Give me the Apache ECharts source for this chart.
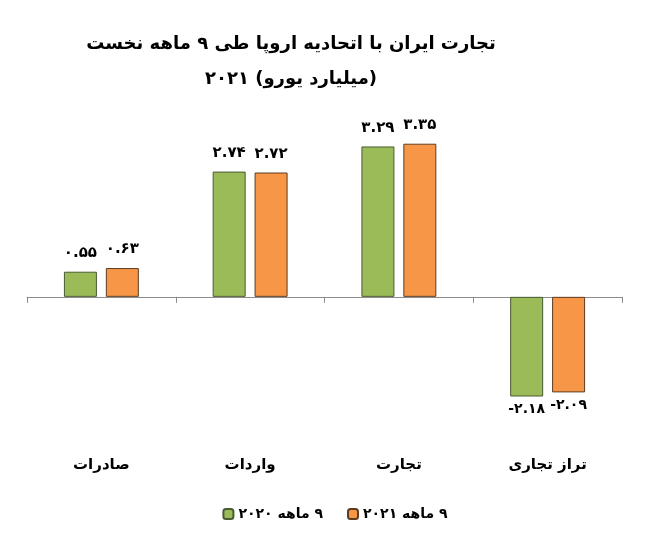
<!DOCTYPE html>
<html>
<head>
<meta charset="utf-8">
<script src="https://cdn.jsdelivr.net/npm/echarts@6/dist/echarts.min.js"></script>
<style>
  html, body { margin: 0; padding: 0; background: #fff; }
  #chart { width: 670px; height: 539px; }
</style>
</head>
<body>
<div id="chart"></div>
<script>
// categories (from left to right as drawn)
var categories = ['صادرات', 'واردات', 'تجارت', 'تراز تجاری'];
// series values, billion euro
var values2020 = [0.55, 2.74, 3.29, -2.18];
var values2021 = [0.63, 2.72, 3.35, -2.09];
// legend names (RLM keeps the digit on the right side)
var name2020 = '\u200F۹ ماهه ۲۰۲۰';
var name2021 = '\u200F۹ ماهه ۲۰۲۱';

var faDigits = ['۰', '۱', '۲', '۳', '۴', '۵', '۶', '۷', '۸', '۹'];
function toFa(v) {
    return v.toFixed(2).replace(/[0-9]/g, function (d) { return faDigits[+d]; });
}

// negative bars get their label underneath
function makeData(arr) {
    return arr.map(function (v) {
        if (v < 0) {
            return { value: v, label: { position: 'bottom', distance: 6, fontSize: 14 } };
        }
        return { value: v, label: { position: 'top', distance: 11 } };
    });
}

var myChart = echarts.init(document.getElementById('chart'));

var font = 'DejaVu Sans';

var option = {
    animation: false,
    textStyle: { fontFamily: font },
    title: {
        text: 'تجارت ایران با اتحادیه اروپا طی ۹ ماهه نخست\n۲۰۲۱ (میلیارد یورو)',
        left: 286,
        top: 22,
        textAlign: 'center',
        textStyle: {
            fontFamily: font,
            fontSize: 18,
            fontWeight: 'bold',
            color: '#000',
            lineHeight: 35
        }
    },
    legend: {
        data: [name2020, name2021],
        top: 502,
        left: 'center',
        itemWidth: 10,
        itemHeight: 10,
        itemGap: 24,
        textStyle: { fontFamily: font, fontSize: 14, fontWeight: 'bold', color: '#000' }
    },
    grid: {
        left: 27,
        right: 48,
        top: 114,
        height: 320
    },
    xAxis: [{
        type: 'category',
        data: categories,
        position: 'bottom',
        axisLine: { onZero: true, lineStyle: { color: '#8c8c8c', width: 1 } },
        axisTick: { show: true, length: 6, lineStyle: { color: '#8c8c8c' } },
        axisLabel: { show: false }
    }, {
        type: 'category',
        data: categories,
        position: 'bottom',
        axisLine: { show: false },
        axisTick: { show: false },
        axisLabel: {
            margin: 24,
            fontFamily: font,
            fontSize: 15,
            fontWeight: 'bold',
            color: '#000'
        }
    }],
    yAxis: {
        type: 'value',
        min: -3,
        max: 4,
        show: false,
        splitLine: { show: false }
    },
    series: [{
        name: name2020,
        type: 'bar',
        xAxisIndex: 0,
        data: makeData(values2020),
        barWidth: 33,
        barGap: '27%',
        itemStyle: { color: '#9bbb59', borderColor: '#4a5a33', borderWidth: 1 },
        label: {
            show: true,
            fontFamily: font,
            fontSize: 15,
            fontWeight: 'bold',
            color: '#000',
            formatter: function (p) { return toFa(p.value); }
        }
    }, {
        name: name2021,
        type: 'bar',
        xAxisIndex: 0,
        data: makeData(values2021),
        barWidth: 33,
        barGap: '27%',
        itemStyle: { color: '#f79646', borderColor: '#5e3d22', borderWidth: 1 },
        label: {
            show: true,
            fontFamily: font,
            fontSize: 15,
            fontWeight: 'bold',
            color: '#000',
            formatter: function (p) { return toFa(p.value); }
        }
    }]
};

myChart.setOption(option);
</script>
</body>
</html>
